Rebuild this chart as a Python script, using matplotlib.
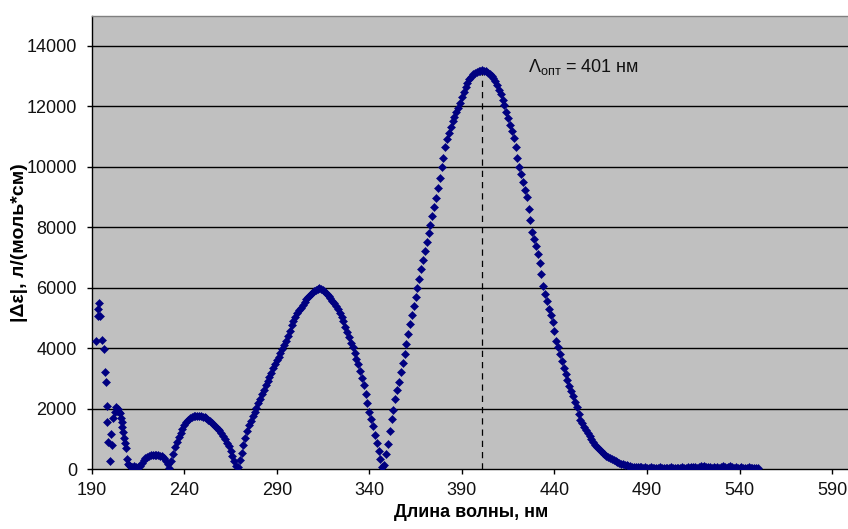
import matplotlib
matplotlib.use("Agg")
import matplotlib.pyplot as plt

plt.rcParams['font.family'] = ['Liberation Sans', 'DejaVu Sans']
plt.rcParams['mathtext.fontset'] = 'custom'
plt.rcParams['mathtext.rm'] = 'Liberation Sans'
plt.rcParams['mathtext.it'] = 'Liberation Sans'

# noisy short-wave region (nm, value)
early_wl = [192.2, 193.2, 193.5, 193.9, 194.6, 195.8, 196.4, 197.2, 197.6, 198.2,
            198.1, 198.9, 199.8, 200.6, 200.9, 201.7, 202.4, 202.9, 203.4, 203.9,
            204.3, 204.8, 205.3, 205.8, 206.2, 206.6, 207.0, 207.6, 208.1, 208.6,
            208.9, 209.4]
early_val = [4250, 5050, 5300, 5500, 5050, 4280, 3980, 3200, 2880, 2080,
             1560, 880, 250, 1150, 780, 1680, 1900, 2050, 1980, 1920,
             2000, 1880, 1850, 1700, 1550, 1400, 1230, 1010, 850, 680,
             330, 180]

# main region, 1 nm step from 210 nm
main_start = 210
main_val = [
    120, 70, 60, 90, 60, 80, 110, 200, 290, 350,            # 210-219
    400, 430, 450, 460, 470, 470, 460, 440, 420, 370,       # 220-229
    280, 150, 40, 250, 500, 720, 900, 1060, 1200, 1330,     # 230-239
    1450, 1550, 1630, 1690, 1730, 1750, 1760, 1765, 1765, 1750,  # 240-249
    1730, 1710, 1680, 1630, 1580, 1520, 1470, 1400, 1330, 1280,  # 250-259
    1200, 1100, 980, 870, 750, 590, 420, 260, 100, 60,      # 260-269
    300, 520, 780, 1030, 1260, 1450, 1600, 1760, 1900, 2020,     # 270-279
    2180, 2330, 2480, 2620, 2770, 2920, 3050, 3190, 3330, 3460,  # 280-289
    3590, 3710, 3850, 3960, 4090, 4220, 4390, 4560, 4750, 4900,  # 290-299
    5030, 5150, 5260, 5340, 5430, 5520, 5610, 5700, 5770, 5830,  # 300-309
    5880, 5920, 5950, 5980, 5960, 5920, 5870, 5800, 5730, 5650,  # 310-319
    5560, 5490, 5400, 5280, 5160, 5020, 4880, 4700, 4530, 4370,  # 320-329
    4180, 4020, 3830, 3640, 3470, 3250, 3000, 2780, 2480, 2180,  # 330-339
    1900, 1660, 1420, 1120, 860, 600, 340, 80, 120, 480,         # 340-349
    820, 1250, 1650, 1950, 2300, 2600, 2880, 3200, 3500, 3800,   # 350-359
    4150, 4480, 4780, 5080, 5380, 5680, 5980, 6300, 6620, 6920,  # 360-369
    7220, 7500, 7800, 8080, 8360, 8660, 8960, 9300, 9640, 9980,  # 370-379
    10300, 10650, 10900, 11130, 11320, 11500, 11640, 11800, 11950, 12100,  # 380-389
    12300, 12480, 12640, 12780, 12890, 12980, 13050, 13100, 13140, 13170,  # 390-399
    13180, 13190, 13180, 13150, 13110, 13060, 13000, 12930, 12830, 12700,  # 400-409
    12550, 12400, 12220, 12050, 11800, 11600, 11380, 11180, 10950, 10650,  # 410-419
    10300, 10000, 9750, 9500, 9230, 9000, 8600, 8250, 7850, 7600,  # 420-429
    7370, 7100, 6800, 6450, 6050, 5800, 5550, 5300, 5100, 4850,   # 430-439
    4550, 4250, 4020, 3800, 3580, 3350, 3140, 2960, 2760, 2580,   # 440-449
    2400, 2200, 2040, 1820, 1630, 1520, 1400, 1300, 1180, 1080,   # 450-459
    980, 890, 800, 730, 660, 600, 540, 490, 440, 400,             # 460-469
    360, 320, 290, 250, 220, 200, 170, 150, 130, 120,             # 470-479
    110, 90, 80, 80, 70, 60, 70, 50, 40, 60,                      # 480-489
    30, 40, 50, 30, 20, 40, 30, 50, 20, 30,                       # 490-499
    40, 20, 30, 50, 20, 30, 40, 20, 30, 60,                       # 500-509
    40, 30, 50, 40, 70, 50, 80, 40, 60, 90,                       # 510-519
    60, 110, 70, 50, 80, 40, 60, 30, 50, 40,                      # 520-529
    60, 90, 50, 40, 70, 100, 60, 30, 50, 40,                      # 530-539
    30, 50, 20, 40, 30, 50, 20, 30, 40, 20,                       # 540-549
    30,                                                           # 550
]
main_wl = [main_start + i for i in range(len(main_val))]

peak_wl = 401
peak_val = 13190
x_ticks = [190, 240, 290, 340, 390, 440, 490, 540, 590]
y_ticks = [0, 2000, 4000, 6000, 8000, 10000, 12000, 14000]

fig = plt.figure(figsize=(8.48, 5.29), dpi=100)
ax_left, ax_w = 91.7 / 848, (850.6 - 91.7) / 848
ax = fig.add_axes([ax_left, 1 - 469 / 529, ax_w, (469 - 15.5) / 529])
ax.set_facecolor('#c0c0c0')

ax.set_xlim(190, 600)
ax.set_ylim(0, 15000)
ax.set_xticks(x_ticks)
ax.set_yticks(y_ticks)

for y in y_ticks[1:]:
    ax.axhline(y, color='black', lw=1.0, zorder=1)

wl = early_wl + main_wl
val = early_val + main_val
ax.plot(wl, val, linestyle='none', marker='D', ms=3.9, color='#000080',
        markeredgewidth=0.4, zorder=3)

ax.plot([peak_wl, peak_wl], [0, peak_val], color='black', lw=0.9,
        linestyle=(0, (5, 4)), zorder=2)

ax.text(425.7, 13140, 'Λ$_{\\mathrm{опт}}$ = 401 нм', fontsize=13,
        va='baseline', ha='left', color='#111111')

ax.tick_params(axis='both', direction='out', length=3.6, width=1, color='black',
               labelsize=13, labelcolor='#111111')
ax.tick_params(axis='x', pad=5.5)
ax.tick_params(axis='y', pad=7)

for side in ['left', 'bottom']:
    ax.spines[side].set_color('black')
    ax.spines[side].set_linewidth(1.0)
ax.spines['top'].set_color('#808080')
ax.spines['top'].set_linewidth(1.0)
ax.spines['right'].set_color('#808080')

ax.set_xlabel('Длина волны, нм', fontsize=13, fontweight='bold', labelpad=4)
ax.set_ylabel('|Δε|, л/(моль*см)', fontsize=14, fontweight='bold')
ax.yaxis.set_label_coords((28 - 91.7) / (ax_w * 848), 0.5)

fig.savefig('out.png', dpi=100)
